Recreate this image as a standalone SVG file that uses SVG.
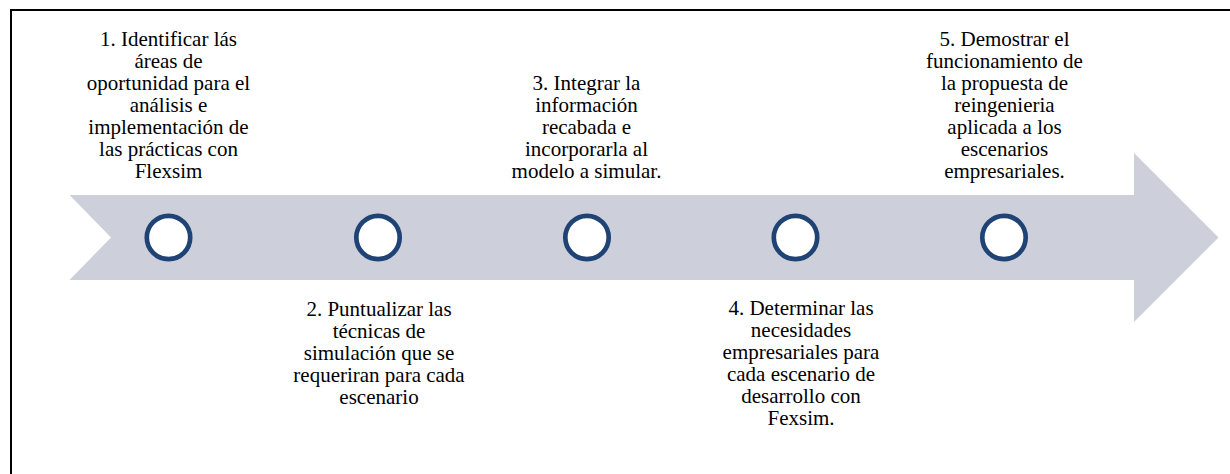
<svg xmlns="http://www.w3.org/2000/svg" width="1230" height="474" viewBox="0 0 1230 474">
<style>
.dot{fill:#ffffff;stroke:#1e4374;stroke-width:4.7}
</style>
<rect x="0" y="0" width="1230" height="474" fill="#ffffff"/>
<rect x="11" y="10" width="1240" height="490" fill="none" stroke="#000000" stroke-width="2"/>
<g id="connectors">
<path id="arrow" d="M69.5,195 L1134,195 L1134,153 L1218.5,237.5 L1134,322 L1134,280 L69.5,280 L111,237.5 Z" fill="#cdd0da"/>
</g>
<g id="step1">
<circle class="dot" cx="168.5" cy="237.5" r="21.7"/>
<text x="168.5" y="45.5" font-size="21" font-family="Liberation Serif" text-anchor="middle"><tspan x="168.5">1. Identificar lás</tspan><tspan x="168.5" dy="22">áreas de</tspan><tspan x="168.5" dy="22">oportunidad para el</tspan><tspan x="168.5" dy="22">análisis e</tspan><tspan x="168.5" dy="22">implementación de</tspan><tspan x="168.5" dy="22">las prácticas con</tspan><tspan x="168.5" dy="22">Flexsim</tspan></text>
</g>
<g id="step2">
<circle class="dot" cx="378" cy="237.5" r="21.7"/>
<text x="379" y="316" font-size="21" font-family="Liberation Serif" text-anchor="middle"><tspan x="379">2. Puntualizar las</tspan><tspan x="379" dy="22">técnicas de</tspan><tspan x="379" dy="22">simulación que se</tspan><tspan x="379" dy="22">requeriran para cada</tspan><tspan x="379" dy="22">escenario</tspan></text>
</g>
<g id="step3">
<circle class="dot" cx="587" cy="237.5" r="21.7"/>
<text x="586.5" y="90" font-size="21" font-family="Liberation Serif" text-anchor="middle"><tspan x="586.5">3. Integrar la</tspan><tspan x="586.5" dy="22">información</tspan><tspan x="586.5" dy="22">recabada e</tspan><tspan x="586.5" dy="22">incorporarla al</tspan><tspan x="586.5" dy="22">modelo a simular.</tspan></text>
</g>
<g id="step4">
<circle class="dot" cx="795.5" cy="237.5" r="21.7"/>
<text x="801" y="315" font-size="21" font-family="Liberation Serif" text-anchor="middle"><tspan x="801">4. Determinar las</tspan><tspan x="801" dy="22">necesidades</tspan><tspan x="801" dy="22">empresariales para</tspan><tspan x="801" dy="22">cada escenario de</tspan><tspan x="801" dy="22">desarrollo con</tspan><tspan x="801" dy="22">Fexsim.</tspan></text>
</g>
<g id="step5">
<circle class="dot" cx="1004" cy="237.5" r="21.7"/>
<text x="1004.5" y="46" font-size="21" font-family="Liberation Serif" text-anchor="middle"><tspan x="1004.5">5. Demostrar el</tspan><tspan x="1004.5" dy="22">funcionamiento de</tspan><tspan x="1004.5" dy="22">la propuesta de</tspan><tspan x="1004.5" dy="22">reingenieria</tspan><tspan x="1004.5" dy="22">aplicada a los</tspan><tspan x="1004.5" dy="22">escenarios</tspan><tspan x="1004.5" dy="22">empresariales.</tspan></text>
</g>
</svg>
